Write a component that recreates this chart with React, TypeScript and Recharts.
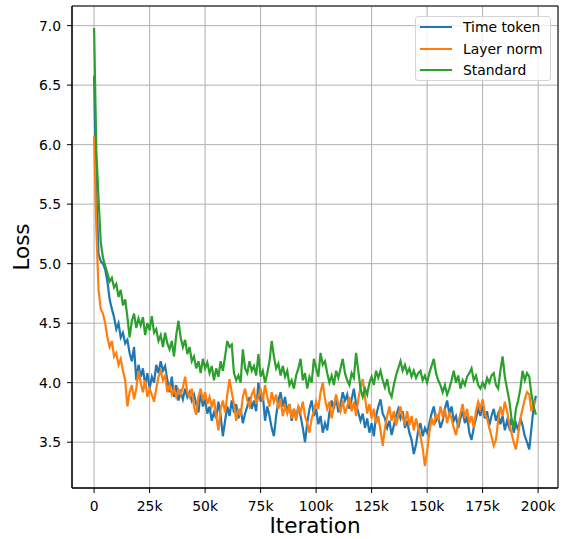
import React from 'react';
import { LineChart, Line, XAxis, YAxis, CartesianGrid, ReferenceArea, Label } from 'recharts';

// iteration step between logged points (in iterations)
const STEP = 1000;

const timeToken = [
  6.58, 5.6, 5.08, 5.02, 5.0, 4.95, 4.85, 4.7, 4.62, 4.55,
  4.45, 4.5, 4.38, 4.42, 4.33, 4.36, 4.25, 4.18, 4.3, 4.02,
  4.15, 4.05, 4.12, 3.98, 4.08, 3.95, 4.05, 4.0, 4.15, 4.08,
  4.18, 4.1, 4.14, 4.02, 3.92, 4.05, 3.88, 3.98, 3.85, 3.92,
  3.86, 3.95, 3.88, 3.92, 3.85, 3.9, 3.82, 3.75, 3.92, 3.8,
  3.86, 3.74, 3.8, 3.68, 3.75, 3.7, 3.84, 3.72, 3.55, 3.68,
  3.8, 3.72, 3.85, 3.75, 3.82, 3.7, 3.78, 3.66, 3.74, 3.8,
  3.88, 3.78, 3.85, 3.76, 4.0, 3.84, 3.9, 3.68, 3.8, 3.72,
  3.62, 3.55, 3.72, 3.85, 3.92, 3.8, 3.88, 3.75, 3.82, 3.68,
  3.78, 3.7, 3.8, 3.72, 3.62, 3.5, 3.66, 3.78, 3.85, 3.72,
  3.78, 3.65, 3.72, 3.58, 3.66, 3.6, 3.75, 3.85, 3.78, 3.88,
  3.75, 3.82, 3.92, 3.85, 3.9, 3.78, 3.86, 3.95, 3.82, 3.75,
  3.68, 3.74, 3.62, 3.7, 3.58, 3.66, 3.55, 3.72, 3.8, 3.86,
  3.74, 3.7, 3.62, 3.68, 3.56, 3.64, 3.72, 3.78, 3.7, 3.76,
  3.62, 3.68, 3.58, 3.52, 3.4, 3.48, 3.6, 3.66, 3.55, 3.62,
  3.58, 3.66, 3.74, 3.8, 3.68, 3.72, 3.62, 3.68, 3.78, 3.85,
  3.74, 3.8, 3.68, 3.72, 3.62, 3.7, 3.76, 3.66, 3.72, 3.58,
  3.52, 3.62, 3.7, 3.78, 3.72, 3.82, 3.7, 3.76, 3.64, 3.72,
  3.78, 3.68, 3.74, 3.65, 3.72, 3.6, 3.68, 3.62, 3.7, 3.58,
  3.66, 3.6, 3.7, 3.64, 3.55, 3.5, 3.44, 3.62, 3.8, 3.89,
];

const layerNorm = [
  6.07, 5.3, 4.78, 4.62, 4.58, 4.5, 4.38, 4.3, 4.35, 4.22,
  4.25, 4.15, 4.2, 4.1, 4.02, 3.8, 3.92, 3.98, 3.86, 3.95,
  4.1, 4.0, 3.92, 4.02, 3.88, 3.95, 3.9, 3.84, 3.95, 4.05,
  4.1, 4.02, 4.06, 3.92, 3.98, 3.9, 3.95, 3.88, 3.94, 3.9,
  3.96, 4.05, 3.92, 3.88, 3.95, 3.8, 3.73, 3.88, 3.95, 3.85,
  3.92, 3.82, 3.88, 3.8, 3.86, 3.72, 3.6, 3.78, 3.85, 3.75,
  3.9, 4.03, 3.92, 3.82, 3.68, 3.78, 3.72, 3.88, 3.95, 3.85,
  3.8, 3.9, 3.94, 3.82, 3.88, 3.95, 3.85, 3.98, 3.88, 3.8,
  3.92, 3.84, 3.9, 3.78, 3.86, 3.72, 3.8, 3.74, 3.82, 3.7,
  3.78, 3.68, 3.8, 3.75, 3.84, 3.72, 3.66, 3.58, 3.7, 3.76,
  3.84, 3.78, 3.92, 4.0, 3.86, 3.78, 3.84, 3.7, 3.8, 3.9,
  3.82, 3.76, 3.85, 3.74, 3.8, 3.88, 3.76, 3.84, 3.72, 3.86,
  3.96, 4.03, 3.88, 3.74, 3.82, 3.7, 3.78, 3.66, 3.72, 3.6,
  3.47, 3.62, 3.72, 3.8, 3.68, 3.76, 3.64, 3.72, 3.8, 3.7,
  3.66, 3.76, 3.64, 3.72, 3.6, 3.7, 3.62, 3.55, 3.45, 3.3,
  3.42, 3.58, 3.7, 3.64, 3.74, 3.68, 3.8, 3.72, 3.78, 3.66,
  3.74, 3.7, 3.62, 3.56, 3.66, 3.74, 3.82, 3.7, 3.78, 3.66,
  3.72, 3.62, 3.76, 3.84, 3.78, 3.86, 3.74, 3.7, 3.62, 3.55,
  3.47, 3.52, 3.68, 3.8, 3.72, 3.84, 3.76, 3.66, 3.58, 3.5,
  3.44, 3.56, 3.7, 3.78, 3.86, 3.92, 3.9, 3.76, 3.82, 3.85,
];

const standard = [
  6.98, 5.95, 5.55, 5.18, 5.05, 4.98, 4.92, 4.85, 4.88, 4.8,
  4.83, 4.72, 4.78, 4.65, 4.7, 4.55, 4.38, 4.52, 4.58, 4.46,
  4.54, 4.48, 4.55, 4.4, 4.5, 4.44, 4.56, 4.42, 4.45, 4.35,
  4.4, 4.3, 4.42, 4.33, 4.28, 4.35, 4.22, 4.4, 4.52, 4.38,
  4.3, 4.36, 4.24, 4.3, 4.18, 4.22, 4.12, 4.18, 4.08, 4.2,
  4.12, 4.17, 4.08, 4.14, 4.02, 4.12, 4.05, 4.18, 4.1, 4.22,
  4.35, 4.3, 4.32, 4.08, 4.02, 4.06, 4.0, 4.28, 4.12, 4.08,
  4.18, 4.1, 4.14, 4.06, 4.24, 4.05, 4.1, 4.0, 4.08, 4.18,
  4.35, 4.22, 4.12, 4.16, 4.06, 4.14, 4.05, 4.1, 3.98, 4.02,
  3.95, 4.06, 4.12, 4.2, 4.02, 4.08, 3.95, 4.05, 4.0, 4.2,
  4.12, 4.05, 4.25, 4.15, 4.18, 4.08, 4.0, 4.06, 3.98, 4.1,
  4.04, 4.12, 4.2, 4.08, 4.02, 3.98, 4.08, 4.04, 4.25, 4.1,
  3.95, 3.88, 3.95, 3.9, 4.0, 4.05, 3.98, 4.1, 4.04, 4.1,
  4.02, 3.96, 4.03, 3.92, 3.88, 3.98, 4.06, 4.12, 4.18, 4.1,
  4.15, 4.08, 4.12, 4.05, 4.1, 4.04, 4.08, 4.1, 4.02, 4.06,
  4.0, 4.08, 4.14, 4.2, 4.08, 4.02, 3.98, 3.92, 3.98, 3.9,
  3.95, 4.02, 4.1, 4.0, 4.06, 3.95, 4.02, 3.98, 4.05, 4.08,
  4.12, 4.02, 4.06, 3.98, 3.95, 4.0, 3.96, 4.04, 4.0, 4.06,
  4.08, 3.98, 3.95, 4.1, 4.22, 4.05, 3.95, 3.85, 3.7, 3.62,
  3.78, 3.85, 3.95, 4.1, 4.02, 4.08, 4.05, 3.9, 3.8, 3.73,
];

const xTicks = [0, 25000, 50000, 75000, 100000, 125000, 150000, 175000, 200000];
const yTicks = [3.5, 4.0, 4.5, 5.0, 5.5, 6.0, 6.5, 7.0];

const seriesNames = ['Time token', 'Layer norm', 'Standard'];
const seriesColors = ['#1f77b4', '#ff7f0e', '#2ca02c'];

const X_DOMAIN: [number, number] = [-9950, 208950];
const Y_DOMAIN: [number, number] = [3.115, 7.165];

const FONT = 'DejaVu Sans';

const rows = timeToken.map((v, i) => ({
  iter: i * STEP,
  timeToken: v,
  layerNorm: layerNorm[i],
  standard: standard[i],
}));

const fmtX = (v: number) => (v === 0 ? '0' : `${v / 1000}k`);
const fmtY = (v: number) => v.toFixed(1);

const tickStyle = { fill: '#000', fontSize: 13.9, fontFamily: FONT };

const LegendBox = () => (
  <div
    style={{
      position: 'absolute',
      left: 415,
      top: 16,
      width: 134,
      height: 63,
      border: '1px solid #d4d4d4',
      borderRadius: 3,
      background: 'rgba(255,255,255,0.8)',
      fontFamily: FONT,
      fontSize: 13.9,
      color: '#000',
    }}
  >
    {seriesNames.map((name, i) => (
      <div
        key={name}
        style={{ position: 'absolute', left: 4, top: 1 + i * 21.7, height: 18, display: 'flex', alignItems: 'center' }}
      >
        <svg width={32} height={4} style={{ display: 'block' }}>
          <line x1={0} x2={32} y1={2} y2={2} stroke={seriesColors[i]} strokeWidth={2} />
        </svg>
        <span style={{ marginLeft: 11, whiteSpace: 'nowrap', lineHeight: '18px' }}>{name}</span>
      </div>
    ))}
  </div>
);

const App: React.FC = () => {
  return (
    <div style={{ position: 'absolute', left: 0, top: 0, width: 565, height: 539, background: '#fff' }}>
      <LineChart width={565} height={539} data={rows} margin={{ top: 6, right: 7, bottom: 0, left: 0 }}>
        <CartesianGrid stroke="#b0b0b0" strokeWidth={1} />
        <XAxis
          dataKey="iter"
          type="number"
          domain={X_DOMAIN}
          ticks={xTicks}
          tickFormatter={fmtX}
          height={51}
          tickSize={5}
          tickMargin={8}
          tick={tickStyle}
          stroke="#000"
          allowDataOverflow
        >
          <Label
            content={() => (
              <text x={315} y={533} textAnchor="middle" fontSize={21.5} fontFamily={FONT} fill="#000">
                Iteration
              </text>
            )}
          />
        </XAxis>
        <YAxis
          type="number"
          domain={Y_DOMAIN}
          ticks={yTicks}
          tickFormatter={fmtY}
          width={72}
          tickSize={5}
          tickMargin={6}
          tick={tickStyle}
          stroke="#000"
          allowDataOverflow
        >
          <Label
            content={() => (
              <text
                x={29}
                y={247}
                transform="rotate(-90 29 247)"
                textAnchor="middle"
                fontSize={21.5}
                fontFamily={FONT}
                fill="#000"
              >
                Loss
              </text>
            )}
          />
        </YAxis>
        <Line dataKey="timeToken" name={seriesNames[0]} stroke={seriesColors[0]} strokeWidth={2.2} dot={false} isAnimationActive={false} />
        <Line dataKey="layerNorm" name={seriesNames[1]} stroke={seriesColors[1]} strokeWidth={2.2} dot={false} isAnimationActive={false} />
        <Line dataKey="standard" name={seriesNames[2]} stroke={seriesColors[2]} strokeWidth={2.2} dot={false} isAnimationActive={false} />
        <ReferenceArea
          x1={X_DOMAIN[0]}
          x2={X_DOMAIN[1]}
          y1={Y_DOMAIN[0]}
          y2={Y_DOMAIN[1]}
          fill="none"
          stroke="#000"
          strokeWidth={1}
          ifOverflow="visible"
        />
      </LineChart>
      <LegendBox />
    </div>
  );
};

export default App;
